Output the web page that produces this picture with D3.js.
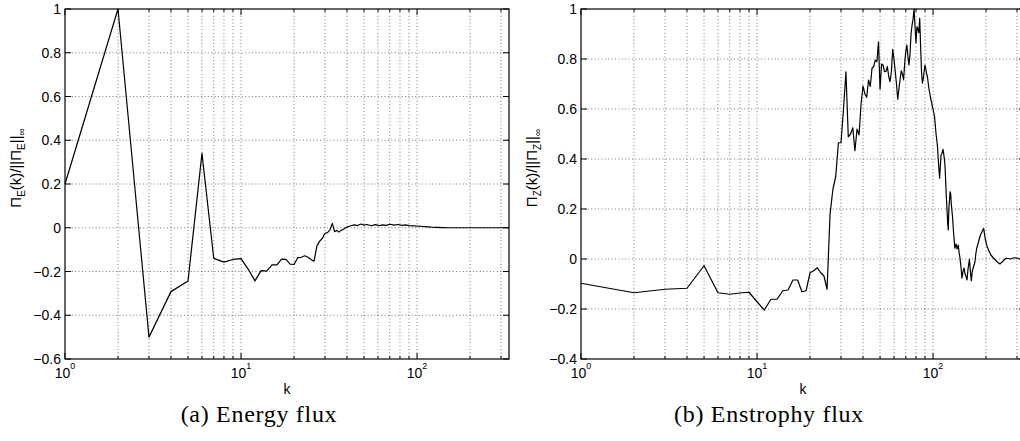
<!DOCTYPE html>
<html>
<head>
<meta charset="utf-8">
<script src="https://d3js.org/d3.v7.min.js"></script>
<style>
  body { margin: 0; background: #fff; }
  svg { display: block; }
  text { font-family: "Liberation Sans", Arial, Helvetica, sans-serif; fill: #000; }
  .caption { font-family: "Liberation Serif", "Times New Roman", serif; letter-spacing: 0.7px; }
</style>
</head>
<body>
<svg width="1020" height="441"></svg>
<script>
// energy flux, normalised
var kE = [1,2,3,4,5,6,7,8,9,10,11,12,13,14,15,16,17,18,19,20,21,22,23,24,25,26,27,28,29,30,
  31,32,33,34,35,36,37,38,39,40,42,44,46,48,50,52,55,58,61,64,67,70,74,78,82,86,90,95,100,
  106,112,120,130,140,150,165,180,200,225,250,280,310,333];
var fluxE = [0.2,1.0,-0.5,-0.292,-0.243,0.34,-0.14,-0.157,-0.145,-0.141,-0.19,-0.243,-0.196,-0.198,-0.17,
  -0.17,-0.143,-0.145,-0.166,-0.168,-0.137,-0.135,-0.128,-0.135,-0.145,-0.153,-0.083,-0.061,-0.048,-0.025,
  -0.022,-0.01,0.02,-0.018,-0.012,-0.02,-0.012,-0.008,-0.002,0.003,0.009,0.013,0.01,0.017,0.012,0.015,
  0.009,0.014,0.01,0.013,0.011,0.016,0.012,0.015,0.011,0.013,0.01,0.009,0.008,0.006,0.005,0.003,0.002,
  0.001,0,0,0,0,0,0,0,0,0];

// enstrophy flux, normalised
var kZ = [1,2,3,4,5,6,7,8,9,10,11,12,13,14,15,16,17,18,19,20,21,22,23,24,25,26,27,28,29,30,
  31,32,33,34,35,36,37,38,39,40,41,42,43,44,45,46,47,48,49,50,51,52,53,54,55,56,57,58,59,60,
  61,62,63,64,65,66,67,68,69,70,71,72,73,74,75,76,77,78,79,80,81,82,83,84,85,86,87,88,89,90,
  91,92,93,94,95,96,97,98,99,100,102,104,105,106,107,108,109,110,111,112,114,116,117,119,121,122,
  123,125,126,127,129,131,133,135,137,139,141,142,144,146,148,150,152,154,156,158,161,163,165,167,
  170,173,175,177,180,183,186,190,194,196,198,201,203,207,213,218,223,230,240,250,259,267,275,285,
  295,305,315,333];
var fluxZ = [-0.097,-0.135,-0.121,-0.117,-0.027,-0.135,-0.141,-0.136,-0.133,-0.171,-0.204,-0.161,-0.161,
  -0.127,-0.124,-0.084,-0.084,-0.131,-0.127,-0.055,-0.047,-0.035,-0.055,-0.068,-0.121,0.18,0.28,0.33,
  0.465,0.465,0.6,0.749,0.489,0.5,0.525,0.433,0.52,0.496,0.62,0.692,0.66,0.647,0.716,0.69,0.763,0.77,
  0.796,0.79,0.869,0.679,0.78,0.776,0.749,0.75,0.77,0.73,0.709,0.75,0.839,0.8,0.75,0.7,0.639,0.68,0.72,
  0.753,0.74,0.716,0.78,0.83,0.856,0.81,0.776,0.82,0.9,0.936,0.96,1.0,0.93,0.865,0.929,0.92,0.905,0.963,
  0.85,0.75,0.703,0.72,0.75,0.776,0.76,0.74,0.728,0.7,0.676,0.66,0.64,0.63,0.61,0.6,0.569,0.5,0.476,0.45,
  0.4,0.36,0.323,0.37,0.416,0.42,0.439,0.4,0.37,0.25,0.15,0.116,0.2,0.269,0.26,0.22,0.169,0.1,0.043,0.06,
  0.04,0.056,0.02,0.009,-0.03,-0.077,-0.05,-0.036,-0.06,-0.07,-0.084,-0.04,-0.001,-0.05,-0.087,-0.05,
  -0.03,-0.012,0.02,0.043,0.06,0.08,0.096,0.11,0.123,0.1,0.08,0.06,0.05,0.035,0.016,0.008,0,-0.01,-0.02,
  -0.008,0.003,0.002,0,0.004,0.005,0.002,0,0];

var yTicksE = [-0.6,-0.4,-0.2,0,0.2,0.4,0.6,0.8,1];
var yLabelsE = ["\u22120.6","\u22120.4","\u22120.2","0","0.2","0.4","0.6","0.8","1"];
var yTicksZ = [-0.4,-0.2,0,0.2,0.4,0.6,0.8,1];
var yLabelsZ = ["\u22120.4","\u22120.2","0","0.2","0.4","0.6","0.8","1"];
var xDecades = [0,1,2];
var kMax = 333;

var svg = d3.select("svg");

function panel(o) {
  var g = svg.append("g");
  var x = d3.scaleLog().domain([1, kMax]).range([o.left, o.left + o.width]);
  var y = d3.scaleLinear().domain(o.yDomain).range([o.top + o.height, o.top]);

  // every 1..9 x 10^d up to kMax
  var gridK = [];
  xDecades.forEach(function(d) {
    for (var m = 1; m <= 9; m++) {
      var v = m * Math.pow(10, d);
      if (v <= kMax) gridK.push(v);
    }
  });

  // dotted grid
  g.selectAll(".vg").data(gridK.slice(1)).enter().append("line")
    .attr("x1", function(d) { return x(d); }).attr("x2", function(d) { return x(d); })
    .attr("y1", o.top).attr("y2", o.top + o.height)
    .attr("stroke", "#555").attr("stroke-width", 0.8).attr("stroke-dasharray", "1,2.4");
  g.selectAll(".hg").data(o.yTicks.slice(1, -1)).enter().append("line")
    .attr("x1", o.left).attr("x2", o.left + o.width)
    .attr("y1", function(d) { return y(d); }).attr("y2", function(d) { return y(d); })
    .attr("stroke", "#555").attr("stroke-width", 0.8).attr("stroke-dasharray", "1,2.4");

  // curve
  var line = d3.line()
    .x(function(d, i) { return x(o.k[i]); })
    .y(function(d) { return y(d); });
  g.append("path").datum(o.flux)
    .attr("d", line)
    .attr("fill", "none").attr("stroke", "#000").attr("stroke-width", 1.2)
    .attr("stroke-linejoin", "round");

  // box
  g.append("rect").attr("x", o.left).attr("y", o.top)
    .attr("width", o.width).attr("height", o.height)
    .attr("fill", "none").attr("stroke", "#000").attr("stroke-width", 1.2);

  // x ticks, top and bottom, pointing inward
  gridK.forEach(function(v) {
    var major = Math.log10(v) % 1 === 0;
    var len = major ? 6 : 3;
    [[o.top + o.height, -len], [o.top, len]].forEach(function(p) {
      g.append("line").attr("x1", x(v)).attr("x2", x(v))
        .attr("y1", p[0]).attr("y2", p[0] + p[1])
        .attr("stroke", "#000").attr("stroke-width", 1);
    });
  });
  // y ticks, left and right
  o.yTicks.forEach(function(v) {
    g.append("line").attr("x1", o.left).attr("x2", o.left + 6)
      .attr("y1", y(v)).attr("y2", y(v)).attr("stroke", "#000").attr("stroke-width", 1);
    g.append("line").attr("x1", o.left + o.width - 6).attr("x2", o.left + o.width)
      .attr("y1", y(v)).attr("y2", y(v)).attr("stroke", "#000").attr("stroke-width", 1);
  });

  // y tick labels
  g.selectAll(".yl").data(o.yTicks).enter().append("text")
    .attr("x", o.left - 4).attr("y", function(d) { return y(d) + 5; })
    .attr("text-anchor", "end").attr("font-size", 14)
    .text(function(d, i) { return o.yLabels[i]; });

  // x tick labels 10^d
  xDecades.forEach(function(d) {
    var t = g.append("text").attr("x", x(Math.pow(10, d))).attr("y", o.top + o.height + 19)
      .attr("text-anchor", "middle").attr("font-size", 14);
    t.append("tspan").text("10");
    t.append("tspan").attr("dy", -9).attr("font-size", 9).text(d);
  });

  // x label
  g.append("text").attr("x", o.left + o.width / 2).attr("y", o.top + o.height + 35)
    .attr("text-anchor", "middle").attr("font-size", 14).text("k");

  // y label
  var yl = g.append("text")
    .attr("transform", "translate(" + o.ylabelX + "," + o.ylabelY + ") rotate(-90)")
    .attr("text-anchor", "middle").attr("font-size", 15);
  yl.append("tspan").text("\u03a0");
  yl.append("tspan").attr("dy", 4).attr("font-size", 10).text(o.sub);
  yl.append("tspan").attr("dy", -4).text("(k)/||\u03a0");
  yl.append("tspan").attr("dy", 4).attr("font-size", 10).text(o.sub);
  yl.append("tspan").attr("dy", -4).text("||");
  yl.append("tspan").attr("dy", 4).attr("font-size", 10).text("\u221e");

  // caption
  svg.append("text").attr("class", "caption")
    .attr("x", o.captionX).attr("y", 422)
    .attr("text-anchor", "middle").attr("font-size", 24)
    .text(o.caption);
}

panel({ left: 65, top: 9, width: 444, height: 350, k: kE, flux: fluxE,
  yDomain: [-0.6, 1], yTicks: yTicksE, yLabels: yLabelsE, sub: "E",
  ylabelX: 21, ylabelY: 168, caption: "(a) Energy flux", captionX: 259 });
panel({ left: 581, top: 9, width: 444, height: 350, k: kZ, flux: fluxZ,
  yDomain: [-0.4, 1], yTicks: yTicksZ, yLabels: yLabelsZ, sub: "Z",
  ylabelX: 537, ylabelY: 168, caption: "(b) Enstrophy flux", captionX: 769 });
</script>
</body>
</html>
